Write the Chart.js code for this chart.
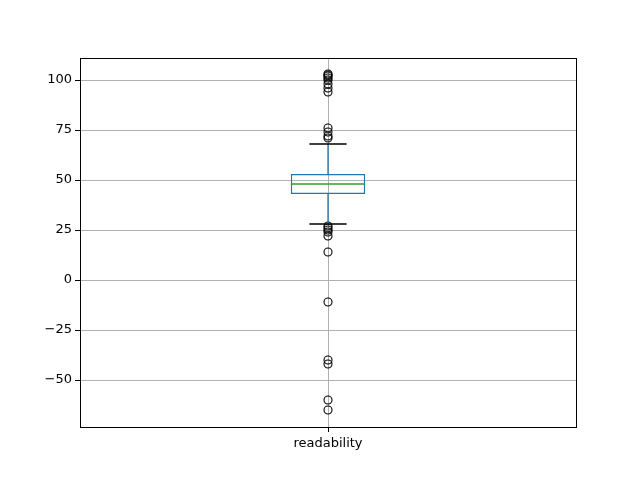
<!DOCTYPE html>
<html>
<head>
<meta charset="utf-8">
<script src="https://cdn.jsdelivr.net/npm/chart.js@4/dist/chart.umd.min.js"></script>
<style>
  body { margin: 0; background: #fff; }
</style>
</head>
<body>
<canvas id="chart" width="640" height="480"></canvas>
<script>
// readability boxplot data
const categories = ['readability'];
const boxRange = [43, 53];        // q1, q3
const median = 48;
const whiskers = [28, 68];        // lower, upper
const outliers = [103, 102.5, 102, 101, 100, 98, 96, 94,
                  76, 74, 72, 71,
                  27, 26, 25, 24, 22, 14, -11, -40, -42, -60, -65];
const yTicks = [-50, -25, 0, 25, 50, 75, 100];

// Whiskers, caps, median and the frame, drawn through the chart scales
const boxExtras = {
    id: 'boxExtras',
    afterDatasetsDraw(chart) {
        const ctx = chart.ctx;
        const x = chart.scales.x;
        const y = chart.scales.y;
        const bar = chart.getDatasetMeta(0).data[0];
        const cx = x.getPixelForValue(0);
        const half = bar.width / 2;
        const capHalf = half / 2;
        const px = v => y.getPixelForValue(v);

        ctx.save();
        ctx.lineWidth = 1.3;
        // whiskers
        ctx.strokeStyle = '#1f77b4';
        ctx.beginPath();
        ctx.moveTo(cx, px(boxRange[1]));
        ctx.lineTo(cx, px(whiskers[1]));
        ctx.moveTo(cx, px(boxRange[0]));
        ctx.lineTo(cx, px(whiskers[0]));
        ctx.stroke();
        // caps
        ctx.strokeStyle = '#000';
        ctx.beginPath();
        whiskers.forEach(function(w) {
            ctx.moveTo(cx - capHalf, px(w));
            ctx.lineTo(cx + capHalf, px(w));
        });
        ctx.stroke();
        // median
        ctx.strokeStyle = '#2ca02c';
        ctx.beginPath();
        ctx.moveTo(cx - half, px(median));
        ctx.lineTo(cx + half, px(median));
        ctx.stroke();
        // axes frame
        const a = chart.chartArea;
        ctx.strokeStyle = '#000';
        ctx.lineWidth = 1;
        ctx.strokeRect(a.left + 0.5, a.top + 0.5, a.right - a.left, a.bottom - a.top);
        ctx.restore();
    }
};

new Chart(document.getElementById('chart'), {
    type: 'bar',
    data: {
        labels: categories,
        datasets: [
            {
                type: 'bar',
                data: [boxRange],
                backgroundColor: 'rgba(0,0,0,0)',
                borderColor: '#1f77b4',
                borderWidth: 1.3,
                borderSkipped: false,
                barPercentage: 0.15,
                categoryPercentage: 1
            },
            {
                type: 'scatter',
                data: outliers.map(v => ({ x: categories[0], y: v })),
                pointStyle: 'circle',
                pointRadius: 4,
                pointBackgroundColor: 'rgba(0,0,0,0)',
                pointBorderColor: '#000',
                pointBorderWidth: 1.1
            }
        ]
    },
    options: {
        responsive: false,
        animation: false,
        layout: { padding: { left: 0, right: 64, top: 58, bottom: 0 } },
        plugins: {
            legend: { display: false },
            tooltip: { enabled: false }
        },
        scales: {
            x: {
                type: 'category',
                offset: true,
                grid: {
                    color: '#b0b0b0',
                    offset: false,
                    tickLength: 5,
                    tickColor: '#000'
                },
                border: { color: '#000', width: 1 },
                ticks: {
                    color: '#000',
                    padding: 4,
                    font: { family: 'DejaVu Sans', size: 13 }
                },
                afterFit(scale) { scale.height = 53; }
            },
            y: {
                min: -73.5,
                max: 111,
                afterBuildTicks(scale) {
                    scale.ticks = yTicks.map(v => ({ value: v }));
                },
                grid: {
                    color: '#b0b0b0',
                    tickLength: 5,
                    tickColor: '#000'
                },
                border: { color: '#000', width: 1 },
                ticks: {
                    color: '#000',
                    padding: 3,
                    font: { family: 'DejaVu Sans', size: 13 },
                    callback: v => String(v).replace('-', '\u2212')
                },
                afterFit(scale) { scale.width = 80; }
            }
        }
    },
    plugins: [boxExtras]
});
</script>
</body>
</html>
